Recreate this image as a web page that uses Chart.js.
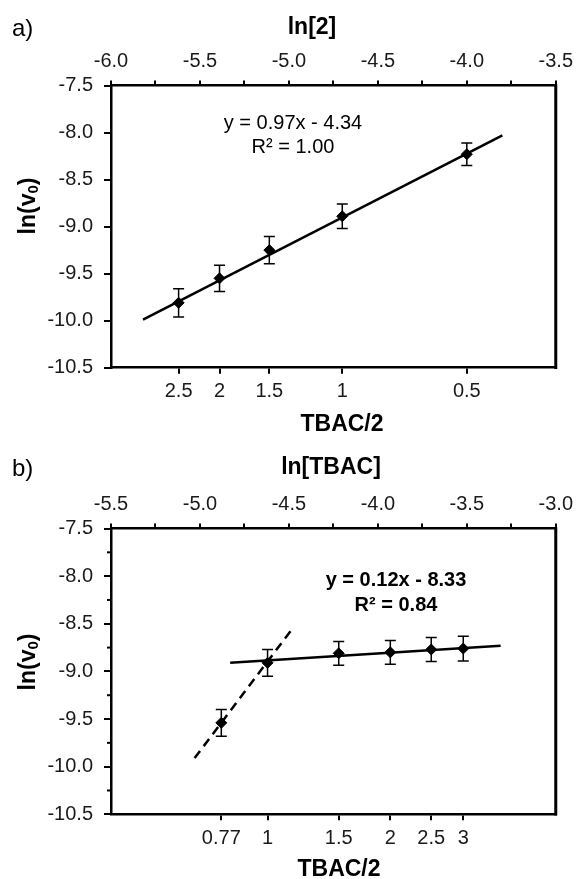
<!DOCTYPE html>
<html lang="en">
<head>
<meta charset="UTF-8">
<title>ln(v0) vs ln[2] and ln[TBAC]</title>
<script src="https://cdn.jsdelivr.net/npm/chart.js"></script>
<style>
  body { margin: 0; background: #fff; }
  canvas { display: block; }
</style>
</head>
<body>
<canvas id="chartA" width="580" height="440"></canvas>
<canvas id="chartB" width="580" height="439"></canvas>
<script>
// panel a) - varying [2]
const lnTwo = [-5.62, -5.39, -5.11, -4.70, -4.00];
const lnV0A = [-9.81, -9.55, -9.25, -8.89, -8.23];
const errA = [0.15, 0.14, 0.145, 0.13, 0.12];
const ratioA = ['2.5', '2', '1.5', '1', '0.5'];
const fitAX = [-5.82, -3.80];
const fitAY = [-9.99, -8.03];

// panel b) - varying [TBAC]
const lnTBAC = [-4.88, -4.62, -4.22, -3.93, -3.70, -3.52];
const lnV0B = [-9.54, -8.91, -8.81, -8.80, -8.77, -8.76];
const errB = [0.14, 0.14, 0.125, 0.125, 0.125, 0.13];
const ratioB = ['0.77', '1', '1.5', '2', '2.5', '3'];
const fitBX = [-4.83, -3.31];
const fitBY = [-8.91, -8.73];
const steepBX = [-5.03, -4.48];
const steepBY = [-9.91, -8.55];
const minorYB = [-7.75, -8.25, -8.75, -9.25, -9.75, -10.25];

const FAMILY = '"Liberation Sans", Arial, sans-serif';
const tickFont = { family: FAMILY, size: 20 };
const tickColor = '#1a1a1a';

const pts = (xs, ys) => xs.map((x, i) => ({ x: x, y: ys[i] }));

// vertical error bars with caps
const errorBars = {
  id: 'errorBars',
  afterDatasetsDraw(chart) {
    const { ctx, scales: { x, y } } = chart;
    chart.data.datasets.forEach(ds => {
      if (!ds.err) return;
      ctx.save();
      ctx.strokeStyle = '#000';
      ctx.lineWidth = 1.5;
      ds.data.forEach((p, i) => {
        const px = x.getPixelForValue(p.x);
        const top = y.getPixelForValue(p.y + ds.err[i]);
        const bot = y.getPixelForValue(p.y - ds.err[i]);
        ctx.beginPath();
        ctx.moveTo(px, top); ctx.lineTo(px, bot);
        ctx.moveTo(px - 5.5, top); ctx.lineTo(px + 5.5, top);
        ctx.moveTo(px - 5.5, bot); ctx.lineTo(px + 5.5, bot);
        ctx.stroke();
      });
      ctx.restore();
    });
  }
};

// frame, minor ticks and free text
const panelText = {
  id: 'panelText',
  afterDraw(chart, args, o) {
    const { ctx, chartArea: a } = chart;
    ctx.save();
    ctx.strokeStyle = '#000';
    ctx.lineWidth = 3;
    ctx.beginPath();
    ctx.moveTo(a.right, a.top - 1.2);
    ctx.lineTo(a.right, a.bottom + 1.2);
    ctx.stroke();

    ctx.lineWidth = 2;
    (o.minorY || []).forEach(v => {
      const py = chart.scales.y.getPixelForValue(v);
      ctx.beginPath();
      ctx.moveTo(a.left - 4, py);
      ctx.lineTo(a.left, py);
      ctx.stroke();
    });

    ctx.fillStyle = '#000';
    ctx.textBaseline = 'middle';
    ctx.textAlign = 'left';
    ctx.font = '24px ' + FAMILY;
    ctx.fillText(o.letter, 12, o.letterY);

    ctx.textAlign = 'center';
    ctx.font = 'bold 23px ' + FAMILY;
    ctx.fillText(o.title, o.titleX, o.titleY);
    ctx.fillText('TBAC/2', o.bottomX, o.bottomY);

    ctx.font = o.eqFont;
    o.eq.forEach((t, i) => ctx.fillText(t, o.eqX, o.eqY[i]));

    // ln(v0) rotated, with subscript
    ctx.translate(29, o.yLabelY);
    ctx.rotate(-Math.PI / 2);
    const big = 'bold 23px ' + FAMILY, small = 'bold 15px ' + FAMILY;
    ctx.font = big;
    const w1 = ctx.measureText('ln(v').width, w3 = ctx.measureText(')').width;
    ctx.font = small;
    const w2 = ctx.measureText('0').width;
    let sx = -(w1 + w2 + w3) / 2;
    ctx.textAlign = 'left';
    ctx.font = big; ctx.fillText('ln(v', sx, 0); sx += w1;
    ctx.font = small; ctx.fillText('0', sx, 5); sx += w2;
    ctx.font = big; ctx.fillText(')', sx, 0);
    ctx.restore();
  }
};

function scales(xMin, xMax, topH, bottomH, ticksX, labelsX) {
  const grid = { drawOnChartArea: false, color: '#000', lineWidth: 2 };
  const border = { color: '#000', width: 2.5 };
  return {
    x: {
      type: 'linear', position: 'top', min: xMin, max: xMax,
      afterFit: s => { s.height = topH; },
      ticks: {
        stepSize: 0.25, autoSkip: false, maxRotation: 0, padding: 7,
        color: tickColor, font: tickFont,
        callback: v => Math.abs(v * 2 - Math.round(v * 2)) < 1e-6 ? v.toFixed(1) : ''
      },
      grid: Object.assign({ tickLength: 5 }, grid),
      border: border
    },
    xb: {
      type: 'linear', position: 'bottom', min: xMin, max: xMax,
      afterFit: s => { s.height = bottomH; },
      afterBuildTicks: s => { s.ticks = ticksX.map(v => ({ value: v })); },
      ticks: {
        autoSkip: false, maxRotation: 0, padding: 6,
        color: tickColor, font: tickFont,
        callback: (v, i) => labelsX[i]
      },
      grid: Object.assign({ tickLength: 6 }, grid),
      border: border
    },
    y: {
      position: 'left', min: -10.5, max: -7.5,
      afterFit: s => { s.width = 111; },
      ticks: {
        stepSize: 0.5, padding: 11, color: tickColor, font: tickFont,
        callback: v => v.toFixed(1)
      },
      grid: Object.assign({ tickLength: 7 }, grid),
      border: border
    }
  };
}

const pointStyle = {
  type: 'scatter', pointStyle: 'rectRot', pointRadius: 5.5,
  backgroundColor: '#000', borderColor: '#000', borderWidth: 1, showLine: false
};
const fitStyle = {
  type: 'line', borderColor: '#000', borderWidth: 2.5, pointRadius: 0, fill: false
};

new Chart(document.getElementById('chartA'), {
  type: 'scatter',
  data: {
    datasets: [
      Object.assign({ label: 'ln(v0)', data: pts(lnTwo, lnV0A), err: errA }, pointStyle),
      Object.assign({ label: 'fit', data: pts(fitAX, fitAY) }, fitStyle)
    ]
  },
  options: {
    responsive: false,
    animation: false,
    layout: { padding: { left: 0, right: 20, top: 0, bottom: 0 } },
    scales: scales(-6, -3.5, 85.5, 72.3, lnTwo, ratioA),
    plugins: {
      legend: { display: false },
      tooltip: { enabled: false },
      panelText: {
        letter: 'a)', letterY: 29,
        title: 'ln[2]', titleX: 312, titleY: 28,
        bottomX: 342, bottomY: 425,
        eq: ['y = 0.97x - 4.34', 'R\u00B2 = 1.00'], eqX: 293, eqY: [123, 147],
        eqFont: '20px ' + FAMILY,
        yLabelY: 206
      }
    }
  },
  plugins: [errorBars, panelText]
});

new Chart(document.getElementById('chartB'), {
  type: 'scatter',
  data: {
    datasets: [
      Object.assign({ label: 'ln(v0)', data: pts(lnTBAC, lnV0B), err: errB }, pointStyle),
      Object.assign({ label: 'fit', data: pts(fitBX, fitBY) }, fitStyle),
      Object.assign({ label: 'low', data: pts(steepBX, steepBY), borderDash: [9, 6] }, fitStyle)
    ]
  },
  options: {
    responsive: false,
    animation: false,
    layout: { padding: { left: 0, right: 20, top: 0, bottom: 0 } },
    scales: scales(-5.5, -3.0, 88.5, 64.7, lnTBAC, ratioB),
    plugins: {
      legend: { display: false },
      tooltip: { enabled: false },
      panelText: {
        letter: 'b)', letterY: 29,
        title: 'ln[TBAC]', titleX: 331, titleY: 28,
        bottomX: 339, bottomY: 430,
        eq: ['y = 0.12x - 8.33', 'R\u00B2 = 0.84'], eqX: 396, eqY: [140, 165],
        eqFont: 'bold 20px ' + FAMILY,
        yLabelY: 222,
        minorY: minorYB
      }
    }
  },
  plugins: [errorBars, panelText]
});
</script>
</body>
</html>
